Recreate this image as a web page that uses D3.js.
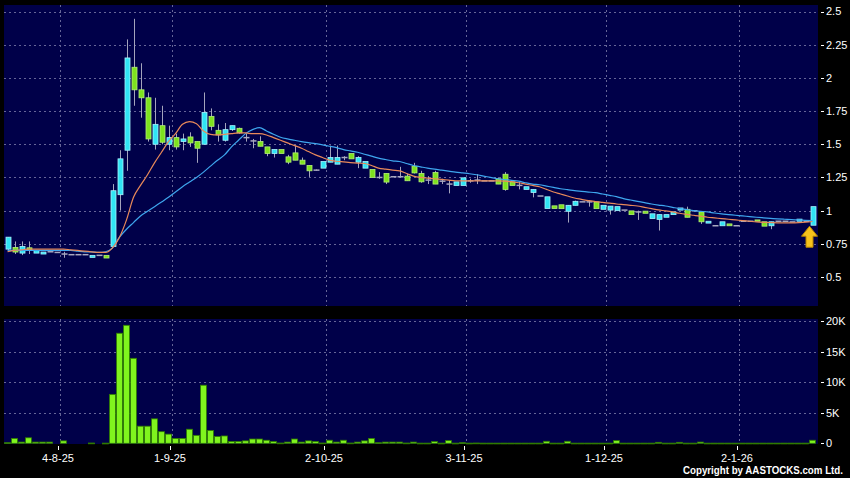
<!DOCTYPE html>
<html><head><meta charset="utf-8">
<script src="https://cdn.jsdelivr.net/npm/d3@7"></script>
<style>html,body{margin:0;padding:0;background:#000;}svg{display:block;}</style>
</head><body><svg id="c" width="850" height="478"></svg>
<script>
// OHLC per trading day (index 0..115)
const opens  = [0.71,0.723,0.68,0.72,0.68,0.673,0.69,0.685,0.673,0.668,0.668,0.668,0.648,0.663,0.663,
  0.73,1.12,1.455,2.08,1.91,1.85,1.50,1.64,1.50,1.55,1.52,1.555,1.52,1.50,1.71,
  1.605,1.53,1.61,1.62,1.55,1.525,1.52,1.48,1.43,1.46,1.405,1.435,1.38,1.34,1.305,
  1.32,1.365,1.35,1.40,1.43,1.365,1.32,1.31,1.25,1.28,1.255,1.255,1.26,1.335,1.28,
  1.23,1.287,1.222,1.20,1.19,1.19,1.224,1.23,1.224,1.224,1.24,1.274,1.217,1.19,1.16,
  1.137,1.11,1.016,1.036,1.044,0.995,1.04,1.066,1.066,1.066,1.01,1.004,1.00,1.004,0.998,
  0.99,0.996,0.94,0.934,0.95,0.97,1.004,1.01,0.999,0.99,0.906,0.886,0.886,0.90,0.886,
  0.92,0.92,0.93,0.916,0.886,0.92,0.92,0.915,0.92,0.92,0.89];
const highs  = [0.80,0.768,0.768,0.768,0.70,0.688,0.69,0.685,0.69,0.668,0.668,0.668,0.663,0.663,0.663,
  1.20,1.455,2.29,2.445,2.11,1.89,1.85,1.79,1.64,1.58,1.58,1.59,1.52,1.89,1.77,
  1.65,1.66,1.64,1.625,1.58,1.54,1.56,1.48,1.46,1.46,1.42,1.49,1.40,1.34,1.31,
  1.37,1.49,1.49,1.41,1.43,1.41,1.37,1.31,1.29,1.28,1.255,1.33,1.28,1.36,1.30,
  1.26,1.30,1.24,1.23,1.217,1.247,1.24,1.275,1.224,1.224,1.25,1.29,1.217,1.215,1.18,
  1.16,1.11,1.104,1.036,1.044,1.04,1.075,1.066,1.08,1.066,1.04,1.034,1.03,1.004,0.998,
  1.00,0.996,0.976,0.97,0.97,0.99,1.02,1.03,0.999,0.99,0.92,0.886,0.916,0.90,0.886,
  0.92,0.92,0.93,0.916,0.916,0.92,0.92,0.915,0.936,0.92,1.03];
const lows   = [0.688,0.673,0.665,0.673,0.68,0.673,0.69,0.685,0.645,0.668,0.668,0.668,0.648,0.663,0.643,
  0.73,1.00,1.30,1.79,1.70,1.52,1.46,1.50,1.455,1.46,1.455,1.48,1.36,1.50,1.605,
  1.52,1.52,1.60,1.58,1.52,1.47,1.485,1.41,1.40,1.43,1.35,1.38,1.35,1.254,1.30,
  1.32,1.365,1.35,1.38,1.39,1.32,1.32,1.25,1.24,1.20,1.255,1.25,1.225,1.28,1.21,
  1.20,1.20,1.20,1.13,1.19,1.19,1.21,1.20,1.224,1.224,1.20,1.15,1.19,1.16,1.16,
  1.10,1.11,1.016,1.016,1.015,0.91,1.04,1.066,1.03,1.015,1.01,0.97,1.00,1.004,0.97,
  0.93,0.98,0.94,0.85,0.95,0.97,1.004,0.95,0.999,0.90,0.906,0.886,0.886,0.886,0.886,
  0.92,0.92,0.92,0.883,0.86,0.92,0.92,0.915,0.92,0.92,0.89];
const closes = [0.80,0.688,0.73,0.705,0.70,0.688,0.69,0.685,0.673,0.668,0.668,0.668,0.663,0.663,0.643,
  1.15,1.39,2.15,1.91,1.85,1.54,1.65,1.515,1.55,1.48,1.54,1.51,1.47,1.74,1.635,
  1.57,1.61,1.64,1.585,1.55,1.525,1.485,1.43,1.46,1.43,1.365,1.38,1.35,1.30,1.305,
  1.37,1.40,1.40,1.40,1.39,1.40,1.37,1.25,1.25,1.215,1.255,1.255,1.225,1.284,1.217,
  1.23,1.20,1.222,1.20,1.217,1.247,1.224,1.23,1.224,1.224,1.20,1.16,1.19,1.19,1.18,
  1.16,1.11,1.104,1.016,1.015,1.04,1.07,1.066,1.066,1.015,1.04,1.034,1.03,1.004,0.97,
  0.99,0.98,0.976,0.97,0.97,0.99,1.02,0.95,0.999,0.916,0.92,0.886,0.916,0.886,0.886,
  0.92,0.92,0.92,0.883,0.916,0.92,0.92,0.915,0.936,0.92,1.03];
// volume (shares)
const volumes = [100,800,200,900,200,200,200,0,400,0,0,0,50,0,30,
  8000,18000,19300,13900,2800,2800,4000,1900,1500,800,800,2300,1300,9500,2100,
  1100,1200,300,300,400,700,700,500,300,50,200,700,200,400,300,
  50,500,200,500,50,200,400,800,100,200,200,200,50,200,30,
  30,280,30,440,30,100,30,50,30,30,30,30,30,30,30,
  30,30,330,30,30,330,30,30,30,30,30,30,440,30,30,
  30,30,30,160,30,30,160,30,30,200,30,30,30,30,30,
  30,30,30,30,30,30,30,30,30,30,500];
// moving averages
const maShort = [0.69,0.70,0.705,0.71,0.71,0.71,0.71,0.71,0.71,0.705,0.70,0.695,0.69,0.685,0.685,
  0.72,0.80,0.93,1.10,1.19,1.27,1.36,1.44,1.52,1.58,1.65,1.67,1.655,1.60,1.575,
  1.57,1.575,1.58,1.585,1.585,1.58,1.58,1.57,1.55,1.53,1.51,1.49,1.47,1.445,1.42,
  1.40,1.38,1.372,1.367,1.362,1.358,1.355,1.34,1.32,1.312,1.305,1.30,1.28,1.26,1.25,
  1.245,1.24,1.235,1.23,1.225,1.224,1.224,1.224,1.224,1.224,1.224,1.222,1.218,1.21,1.20,
  1.19,1.18,1.16,1.14,1.125,1.11,1.095,1.085,1.075,1.068,1.062,1.056,1.05,1.045,1.04,
  1.035,1.025,1.015,1.005,0.998,0.99,0.98,0.972,0.965,0.958,0.95,0.945,0.94,0.935,0.93,
  0.925,0.92,0.915,0.912,0.91,0.908,0.907,0.908,0.91,0.913,0.918];
const maLong = [0.70,0.70,0.70,0.70,0.70,0.70,0.70,0.70,0.70,0.70,0.695,0.69,0.69,0.685,0.69,
  0.72,0.80,0.86,0.91,0.96,0.995,1.03,1.065,1.10,1.14,1.18,1.215,1.25,1.29,1.335,
  1.38,1.42,1.48,1.53,1.58,1.61,1.625,1.60,1.575,1.553,1.54,1.53,1.52,1.512,1.505,
  1.495,1.485,1.475,1.46,1.45,1.44,1.425,1.41,1.395,1.385,1.375,1.37,1.355,1.34,1.33,
  1.32,1.312,1.305,1.298,1.29,1.284,1.278,1.27,1.26,1.25,1.24,1.234,1.228,1.222,1.21,
  1.20,1.195,1.185,1.175,1.165,1.158,1.15,1.145,1.14,1.135,1.125,1.115,1.105,1.09,1.08,
  1.07,1.06,1.05,1.042,1.035,1.025,1.015,1.008,1.0,0.995,0.99,0.982,0.975,0.97,0.965,
  0.96,0.955,0.95,0.946,0.942,0.938,0.935,0.932,0.93,0.927,0.925];
const tickIdx = [8,24,46,66,86,105];
const tickLabels = ["4-8-25","1-9-25","2-10-25","3-11-25","1-12-25","2-1-26"];
const priceTicks = [0.5,0.75,1,1.25,1.5,1.75,2,2.25,2.5];
const priceTickLabels = ["0.5","0.75","1","1.25","1.5","1.75","2","2.25","2.5"];
const volTicks = [0,5000,10000,15000,20000];
const volTickLabels = ["0","5K","10K","15K","20K"];

const N = closes.length;
const svg = d3.select("#c");
const font = "'Liberation Sans', Arial, sans-serif";
const BG = "#000049";
const GRID = "#7070a0";

const L = 4, R = 818;
const pTop = 5, pBot = 306, vTop = 319, vBot = 444;
const x = d3.scaleBand().domain(d3.range(N)).range([L, L + 7*N]);
const cx = i => x(i) + x.bandwidth()/2;
const yP = d3.scaleLinear().domain([0.5, 2.5]).range([277, 11.5]);
const yV = d3.scaleLinear().domain([0, 20000]).range([443.3, 321]);

// panels
svg.append("rect").attr("x",L).attr("y",pTop).attr("width",R-L).attr("height",pBot-pTop).attr("fill",BG);
svg.append("rect").attr("x",L).attr("y",vTop).attr("width",R-L).attr("height",vBot-vTop).attr("fill",BG);

// grid
const g = svg.append("g").attr("stroke",GRID).attr("stroke-width",1).attr("stroke-dasharray","2,3").attr("opacity",0.9);
priceTicks.forEach(t => g.append("line").attr("x1",L).attr("x2",R).attr("y1",Math.round(yP(t))+0.5).attr("y2",Math.round(yP(t))+0.5));
volTicks.slice(1).forEach(t => g.append("line").attr("x1",L).attr("x2",R).attr("y1",Math.round(yV(t))+0.5).attr("y2",Math.round(yV(t))+0.5));
tickIdx.forEach(i => {
  const xx = Math.round(x(i))+0.5;
  g.append("line").attr("x1",xx).attr("x2",xx).attr("y1",pTop).attr("y2",pBot);
  g.append("line").attr("x1",xx).attr("x2",xx).attr("y1",vTop).attr("y2",vBot);
});

// candles
const cg = svg.append("g");
const bw = 5;
d3.range(N).forEach(i => {
  const o = opens[i], c = closes[i], h = highs[i], l = lows[i];
  const xc = Math.round(cx(i)) + 0.5;
  if (h > Math.max(o,c) + 0.001 || l < Math.min(o,c) - 0.001) {
    cg.append("line").attr("x1",xc).attr("x2",xc).attr("y1",yP(h)).attr("y2",yP(l))
      .attr("stroke","#a4a4bc").attr("stroke-width",1);
  }
  if (Math.abs(c - o) < 0.004) {
    cg.append("line").attr("x1",xc-3).attr("x2",xc+3).attr("y1",yP(c)).attr("y2",yP(c))
      .attr("stroke","#a8a8c0").attr("stroke-width",1.5);
  } else {
    const up = c > o;
    cg.append("rect").attr("x",xc-bw/2).attr("y",yP(Math.max(o,c))).attr("width",bw)
      .attr("height",Math.max(1, yP(Math.min(o,c)) - yP(Math.max(o,c))))
      .attr("fill", up ? "#30e4f4" : "#7ee21e")
      .attr("stroke", up ? "#a8f4ff" : "#b4f078").attr("stroke-width",0.8);
  }
});

// moving averages
const line = arr => d3.line().x((d,i)=>cx(i)).y(d=>yP(d)).curve(d3.curveMonotoneX)(arr);
svg.append("path").attr("d",line(maLong)).attr("fill","none").attr("stroke","#3ea6ee").attr("stroke-width",1.2);
svg.append("path").attr("d",line(maShort)).attr("fill","none").attr("stroke","#e8895a").attr("stroke-width",1.2);

// arrow under last candle
const ax = cx(N-1) - 3, ay = yP(lows[N-1]) + 1;
svg.append("path")
  .attr("d",`M${ax},${ay} L${ax+8},${ay+10} L${ax+3.5},${ay+10} L${ax+3.5},${ay+21} L${ax-3.5},${ay+21} L${ax-3.5},${ay+10} L${ax-8},${ay+10} Z`)
  .attr("fill","#f6c21c").attr("stroke","#b88400").attr("stroke-width",1);

// volume bars
const vg = svg.append("g");
d3.range(N).forEach(i => {
  if (volumes[i] <= 0) return;
  const y0 = yV(volumes[i]);
  vg.append("rect").attr("x",x(i)+0.5).attr("y",y0).attr("width",x.bandwidth()-1)
    .attr("height",Math.max(0.8, yV(0)-y0))
    .attr("fill","#80f41e").attr("stroke","#2f7a00").attr("stroke-width",0.8);
});

// right axis labels
const ta = svg.append("g").attr("fill","#fff").attr("font-family",font).attr("font-size","11px");
priceTicks.forEach((t,k) => {
  const yy = yP(t);
  svg.append("line").attr("x1",821).attr("x2",824).attr("y1",Math.round(yy)+0.5).attr("y2",Math.round(yy)+0.5).attr("stroke","#fff");
  ta.append("text").attr("x",826).attr("y",yy).attr("dy","0.36em").text(priceTickLabels[k]);
});
volTicks.forEach((t,k) => {
  const yy = yV(t);
  svg.append("line").attr("x1",821).attr("x2",824).attr("y1",Math.round(yy)+0.5).attr("y2",Math.round(yy)+0.5).attr("stroke","#fff");
  ta.append("text").attr("x",826).attr("y",yy).attr("dy","0.36em").text(volTickLabels[k]);
});
// bottom axis labels
tickIdx.forEach((i,k) => {
  const xx = Math.round(x(i))-2;
  svg.append("line").attr("x1",xx+0.5).attr("x2",xx+0.5).attr("y1",446).attr("y2",450).attr("stroke","#fff");
  ta.append("text").attr("x",xx).attr("y",462).attr("text-anchor","middle").text(tickLabels[k]);
});
svg.append("text").attr("x",843).attr("y",474).attr("text-anchor","end").attr("fill","#fff")
  .attr("font-family",font).attr("font-size","10px").attr("font-weight","bold")
  .attr("textLength",160).attr("lengthAdjust","spacingAndGlyphs")
  .text("Copyright by AASTOCKS.com Ltd.");
</script></body></html>
